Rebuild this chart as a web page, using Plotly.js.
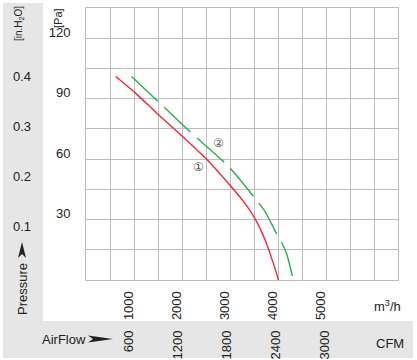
<!DOCTYPE html>
<html>
<head>
<meta charset="utf-8">
<script src="https://cdn.plot.ly/plotly-3.0.1.min.js"></script>
<style>html,body{margin:0;padding:0;background:#fff;}#chart{width:417px;height:360px;}</style>
</head>
<body>
<div id="chart"></div>
<script>
// ---- data ----
const curve1Flow = [620, 1020, 1510, 2000, 2510, 3000, 3280, 3520, 3730, 3900, 4010];   // m3/h
const curve1Pressure = [101, 93, 82, 71.5, 60, 47, 39, 30.5, 20, 8.5, 0];               // Pa
const curve2Flow = [950, 1440, 2170, 2965, 3590, 3730, 3970, 4080, 4180, 4320];         // m3/h
const curve2Pressure = [101, 90, 73.5, 56.5, 38.5, 34, 23, 18.5, 13, 0];                // Pa
const flowTicks = [1000, 2000, 3000, 4000, 5000];          // m3/h labels
const cfmTicks = [600, 1200, 1800, 2400, 3000];            // CFM labels
const paTicks = [30, 60, 90, 120];                         // Pa labels
const inh2oTicks = [0.1, 0.2, 0.3, 0.4];                   // inH2O labels
const curveLabels = ['①', '②'];
const curveLabelPos = [[2340, 56], [2770, 68]];

// ---- scales ----
const FLOW_MAX = 6500, PA_MAX = 135;
const M3H_PER_CFM = 1.69901, PA_PER_INH2O = 249.089;

// plot-area pixel geometry helpers (for decorations only)
const L = 86, T = 8, W = 312, H = 272;
const px = x => (x - L) / W;
const py = y => (T + H - y) / H;

const gridVals = []; for (let v = 500; v <= FLOW_MAX; v += 500) gridVals.push(v);
const gridText = gridVals.map(v => flowTicks.includes(v) ? String(v) : '');
const yGridVals = []; for (let v = 15; v <= PA_MAX; v += 15) yGridVals.push(v);
const yGridText = yGridVals.map(v => paTicks.includes(v) ? String(v) : '');

const FAM = '"Liberation Sans", Arial, sans-serif';
const tickFont = {family: FAM, size: 13, color: '#222'};
const lblFont = {family: FAM, size: 13, color: '#222'};

const traces = [
  {x: curve1Flow, y: curve1Pressure, type: 'scatter', mode: 'lines',
   line: {color: '#ee2a33', width: 1.4, shape: 'spline', smoothing: 0.6}, xaxis: 'x', yaxis: 'y'},
  {x: curve2Flow, y: curve2Pressure, type: 'scatter', mode: 'lines',
   line: {color: '#27b046', width: 1.4, dash: '36px,9px', shape: 'spline', smoothing: 0.6}, xaxis: 'x', yaxis: 'y'},
  // invisible traces to activate the secondary axes
  {x: [0], y: [0], xaxis: 'x2', yaxis: 'y', mode: 'markers', marker: {opacity: 0}, hoverinfo: 'skip'},
  {x: [0], y: [0], xaxis: 'x', yaxis: 'y2', mode: 'markers', marker: {opacity: 0}, hoverinfo: 'skip'}
];

const shapes = [
  {type: 'rect', xref: 'paper', yref: 'paper', x0: px(3), x1: px(43), y0: py(321), y1: py(3),
   fillcolor: '#e6e6e6', line: {width: 0}, layer: 'below'},
  {type: 'rect', xref: 'paper', yref: 'paper', x0: px(3), x1: px(413), y0: py(358), y1: py(321),
   fillcolor: '#e6e6e6', line: {width: 0}, layer: 'below'},
  // arrowheads
  {type: 'path', xref: 'paper', yref: 'paper', fillcolor: '#222', line: {width: 0},
   path: `M ${px(88)} ${py(335.5)} L ${px(113)} ${py(339)} L ${px(88)} ${py(342.5)} L ${px(93)} ${py(339)} Z`},
  {type: 'path', xref: 'paper', yref: 'paper', fillcolor: '#222', line: {width: 0},
   path: `M ${px(18)} ${py(258)} L ${px(22)} ${py(242)} L ${px(26)} ${py(258)} L ${px(22)} ${py(254)} Z`}
];

const ann = (x, y, text, font, angle) => ({xref: 'paper', yref: 'paper', x: px(x), y: py(y), text: text,
  showarrow: false, xanchor: 'center', yanchor: 'middle', textangle: angle || 0, font: font});
const annotations = [
  ann(58, 18, '[Pa]', {family: FAM, size: 11, color: '#222'}, -90),
  ann(19, 24, '[in.H<sub>2</sub>O]', {family: FAM, size: 10, color: '#222'}, -90),
  ann(22, 289, 'Pressure', lblFont, -90),
  ann(64, 339, 'AirFlow', lblFont),
  ann(387, 306, 'm<sup>3</sup>/h', lblFont),
  ann(390, 343, 'CFM', lblFont)
];
curveLabels.forEach((t, i) => annotations.push({
  x: curveLabelPos[i][0], y: curveLabelPos[i][1], xref: 'x', yref: 'y', text: t, showarrow: false,
  font: {family: 'DejaVu Sans, sans-serif', size: 12, color: '#555'}
}));

const layout = {
  width: 417, height: 360,
  margin: {l: L, r: 417 - L - W, t: T, b: 360 - T - H, pad: 0},
  paper_bgcolor: '#ffffff', plot_bgcolor: '#ffffff',
  showlegend: false,
  xaxis: {range: [0, FLOW_MAX], tickmode: 'array', tickvals: gridVals, ticktext: gridText,
          tickangle: -90, tickfont: tickFont, ticks: '', ticklabelstandoff: 5, ticklabelshift: -5,
          showgrid: true, gridcolor: '#bdbdbd', gridwidth: 1, zeroline: false,
          showline: true, linecolor: '#bdbdbd', linewidth: 1, mirror: true, fixedrange: true},
  xaxis2: {range: [0, FLOW_MAX / M3H_PER_CFM], overlaying: 'x', anchor: 'y', side: 'bottom',
           tickmode: 'array', tickvals: cfmTicks, ticktext: cfmTicks.map(String),
           tickangle: -90, tickfont: tickFont, ticks: '', ticklabelstandoff: 47, ticklabelshift: -6,
           showgrid: false, zeroline: false, showline: false, fixedrange: true},
  yaxis: {range: [0, PA_MAX], tickmode: 'array', tickvals: yGridVals, ticktext: yGridText,
          tickfont: tickFont, ticks: '', ticklabelstandoff: 12, ticklabelshift: -6,
          showgrid: true, gridcolor: '#bdbdbd', gridwidth: 1, zeroline: false,
          showline: true, linecolor: '#bdbdbd', linewidth: 1, mirror: true, fixedrange: true},
  yaxis2: {range: [0, PA_MAX / PA_PER_INH2O], overlaying: 'y', anchor: 'x', side: 'left',
           tickmode: 'array', tickvals: inh2oTicks, ticktext: inh2oTicks.map(String),
           tickfont: tickFont, ticks: '', ticklabelstandoff: 54, ticklabelshift: -3,
           showgrid: false, zeroline: false, showline: false, fixedrange: true},
  shapes: shapes,
  annotations: annotations
};

Plotly.newPlot('chart', traces, layout, {displayModeBar: false, staticPlot: true});
</script>
</body>
</html>
